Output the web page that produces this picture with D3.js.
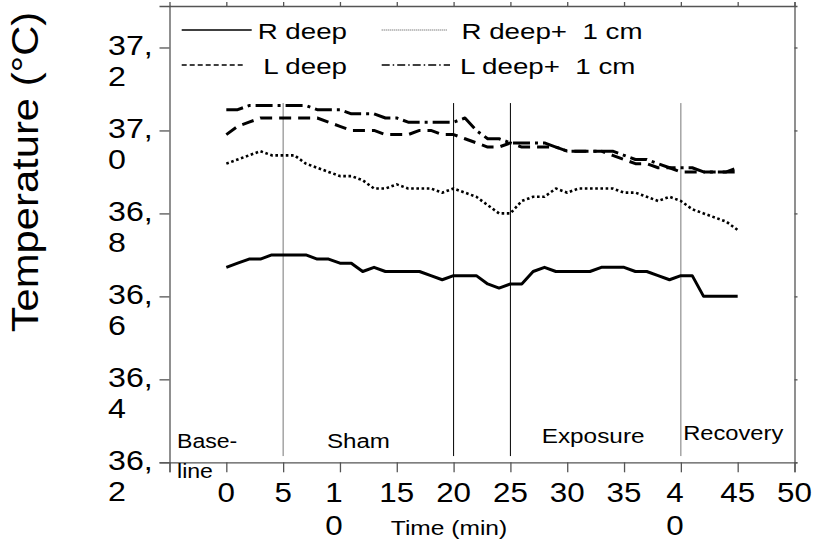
<!DOCTYPE html>
<html>
<head>
<meta charset="utf-8">
<script src="https://cdn.jsdelivr.net/npm/d3@7"></script>
<style>
  body { margin: 0; background: #fff; }
  text { font-family: "Liberation Sans", Arial, sans-serif; fill: #000; }
</style>
</head>
<body>
<div class="canvas"></div>
<script>
const minutes = [0,1,2,3,4,5,6,7,8,9,10,11,12,13,14,15,16,17,18,19,20,21,22,23,24,25,26,27,28,29,30,31,32,33,34,35,36,37,38,39,40,41,42,43,44,45];

const rDeep = [36.67,36.68,36.69,36.69,36.70,36.70,36.70,36.70,36.69,36.69,36.68,36.68,36.66,36.67,36.66,36.66,36.66,36.66,36.65,36.64,36.65,36.65,36.65,36.63,36.62,36.63,36.63,36.66,36.67,36.66,36.66,36.66,36.66,36.67,36.67,36.67,36.66,36.66,36.65,36.64,36.65,36.65,36.60,36.60,36.60,36.60];
const rDeep1 = [36.92,36.93,36.94,36.95,36.94,36.94,36.94,36.92,36.91,36.90,36.89,36.89,36.88,36.86,36.86,36.87,36.86,36.86,36.86,36.85,36.86,36.85,36.84,36.82,36.80,36.80,36.83,36.84,36.84,36.86,36.85,36.86,36.86,36.86,36.86,36.85,36.85,36.84,36.83,36.84,36.83,36.81,36.80,36.79,36.78,36.76];
const lDeep = [36.99,37.01,37.02,37.03,37.03,37.03,37.03,37.03,37.03,37.02,37.01,37.00,37.00,37.00,36.99,36.99,36.99,37.00,37.00,36.99,36.99,36.98,36.97,36.96,36.96,36.97,36.96,36.96,36.96,36.96,36.95,36.95,36.95,36.95,36.94,36.93,36.92,36.92,36.91,36.91,36.90,36.90,36.90,36.90,36.90,36.90];
const lDeep1 = [37.05,37.05,37.06,37.06,37.06,37.06,37.06,37.06,37.05,37.05,37.05,37.04,37.04,37.04,37.03,37.03,37.02,37.02,37.02,37.02,37.02,37.03,37.00,36.98,36.98,36.97,36.97,36.97,36.97,36.96,36.95,36.95,36.95,36.95,36.95,36.94,36.93,36.93,36.92,36.91,36.91,36.91,36.90,36.90,36.90,36.91];

const seriesNames = ["R deep", "R deep+  1 cm", "L deep", "L deep+  1 cm"];
const xTicks = [0,5,10,15,20,25,30,35,40,45,50];
const yTicks = [36.2,36.4,36.6,36.8,37.0,37.2];
const yTickLabels = ["36,|2","36,|4","36,|6","36,|8","37,|0","37,|2"];
const phaseBounds = [5,20,25,40];
const phaseNames = ["Base-|line","Sham","Exposure","Recovery"];

const totalWidth = 816;
const totalHeight = 546;

const svg = d3.select(".canvas").append("svg")
  .attr("width", totalWidth)
  .attr("height", totalHeight);

const x = d3.scaleLinear().domain([-5, 50]).range([169.5, 794.5]);
const y = d3.scaleLinear().domain([36.2, 37.3]).range([462.3, 6]);

// stretched text, the original fonts are wider than Arial
function stext(g, px, py, str, size, sx, anchor) {
  return g.append("text")
    .attr("transform", `translate(${px},${py}) scale(${sx},1)`)
    .attr("font-size", size)
    .attr("text-anchor", anchor || "start")
    .text(str);
}

const axisColor = "#555";

// frame: top and right
const topAxis = d3.axisTop(x).tickValues(xTicks).tickSize(4).tickFormat("");
svg.append("g").attr("transform", `translate(0,${y(37.3)})`).call(topAxis);
const rightAxis = d3.axisRight(y).tickValues(yTicks).tickSize(3).tickFormat("");
svg.append("g").attr("transform", `translate(${x(50)},0)`).call(rightAxis);

const xAxis = d3.axisBottom(x).tickValues([-5].concat(xTicks)).tickSize(10).tickFormat("");
svg.append("g").attr("transform", `translate(0,${y(36.2)})`).call(xAxis);
const yAxis = d3.axisLeft(y).tickValues(yTicks).tickSize(10).tickFormat("");
svg.append("g").attr("transform", `translate(${x(-5)},0)`).call(yAxis);

svg.selectAll(".domain, .tick line").attr("stroke", axisColor).attr("stroke-width", 1.3);

// y tick labels (wrapped in two lines)
yTicks.forEach((v, i) => {
  const parts = yTickLabels[i].split("|");
  stext(svg, 108, y(v) + 8, parts[0], 28, 1.15);
  stext(svg, 108, y(v) + 39, parts[1], 28, 1.15);
});

// x tick labels, two digit labels wrap at 10 and 40
xTicks.forEach(v => {
  const s = String(v);
  if (v === 10 || v === 40) {
    stext(svg, x(v) - 6, 502, s[0], 28, 1.12, "middle");
    stext(svg, x(v) - 6, 535, s[1], 28, 1.12, "middle");
  } else {
    stext(svg, x(v), 502, s, 28, 1.12, "middle");
  }
});

// axis titles
stext(svg, 449, 535, "Time (min)", 21, 1.17, "middle");
svg.append("text")
  .attr("transform", "translate(38,172) rotate(-90) scale(1.16,1)")
  .attr("font-size", 36)
  .attr("text-anchor", "middle")
  .text("Temperature (°C)");

// phase boundaries
const phaseColors = ["#777", "#000", "#000", "#777"];
svg.selectAll(".phase").data(phaseBounds).enter().append("line")
  .attr("class", "phase")
  .attr("x1", d => x(d)).attr("x2", d => x(d))
  .attr("y1", y(37.066)).attr("y2", y(36.215))
  .attr("stroke", (d, i) => phaseColors[i])
  .attr("stroke-width", 1);

// phase names
const baseLines = phaseNames[0].split("|");
stext(svg, x(-5) + 7.5, 448, baseLines[0], 21, 1.1);
stext(svg, x(-5) + 7.5, 478, baseLines[1], 21, 1.1);
stext(svg, x(8.85), 448, phaseNames[1], 21, 1.15);
stext(svg, x(27.75), 443, phaseNames[2], 21, 1.16);
stext(svg, x(40.2), 440, phaseNames[3], 21, 1.13);

// series
const series = [
  { name: seriesNames[0], values: rDeep, dash: null, width: 3 },
  { name: seriesNames[1], values: rDeep1, dash: "2.6,2.6", width: 2.6 },
  { name: seriesNames[2], values: lDeep, dash: "12,7", width: 3 },
  { name: seriesNames[3], values: lDeep1, dash: "17,5,3,5", width: 3 }
];

const line = d3.line().x((d, i) => x(minutes[i])).y(d => y(d));

svg.selectAll(".series").data(series).enter().append("path")
  .attr("class", "series")
  .attr("fill", "none")
  .attr("stroke", "#000")
  .attr("stroke-width", d => d.width)
  .attr("stroke-dasharray", d => d.dash)
  .attr("stroke-linejoin", "round")
  .attr("d", d => line(d.values));

// legend
const legend = svg.append("g");
const legendItems = [
  { name: seriesNames[0], x1: 181.7, x2: 251.7, ly: 30, tx: 347, anchor: "end", dash: null, color: "#000" },
  { name: seriesNames[1], x1: 381.7, x2: 446.7, ly: 30, tx: 461.5, anchor: "start", dash: "1,1", color: "#888" },
  { name: seriesNames[2], x1: 181.7, x2: 245, ly: 65, tx: 347, anchor: "end", dash: "5,3", color: "#000" },
  { name: seriesNames[3], x1: 381.7, x2: 450, ly: 65, tx: 460, anchor: "start", dash: "8,3,1.5,3", color: "#000" }
];
legendItems.forEach(d => {
  legend.append("line")
    .attr("x1", d.x1).attr("x2", d.x2)
    .attr("y1", d.ly).attr("y2", d.ly)
    .attr("stroke", d.color)
    .attr("stroke-width", 1.3)
    .attr("stroke-dasharray", d.dash);
  stext(legend, d.tx, d.ly + 8.5, d.name, 22, 1.26, d.anchor).style("white-space", "pre");
});
</script>
</body>
</html>
